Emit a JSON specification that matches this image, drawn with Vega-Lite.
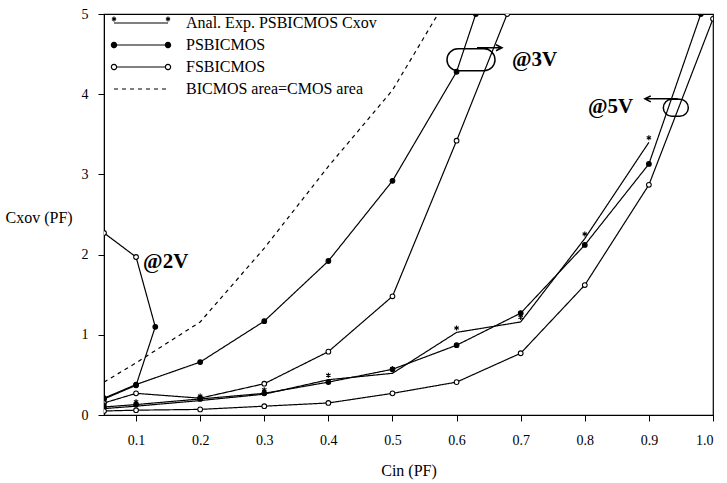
{
  "$schema": "https://vega.github.io/schema/vega-lite/v6.json",
  "width": 609,
  "height": 401,
  "autosize": {"type": "none"},
  "padding": {"left": 104, "top": 14, "right": 14, "bottom": 68},
  "background": "white",
  "config": {
    "view": {"stroke": "black", "strokeWidth": 1.2},
    "font": "Liberation Serif"
  },
  "datasets": {
    "curves": [
      {"curve": "ps2", "kind": "PSBICMOS", "marker": "filled", "cin": 0.05, "cxov": 0.2},
      {"curve": "ps2", "kind": "PSBICMOS", "marker": "filled", "cin": 0.1, "cxov": 0.37},
      {"curve": "ps2", "kind": "PSBICMOS", "marker": "filled", "cin": 0.13, "cxov": 1.1},
      {"curve": "fs2", "kind": "FSBICMOS", "marker": "open", "cin": 0.05, "cxov": 2.27},
      {"curve": "fs2", "kind": "FSBICMOS", "marker": "open", "cin": 0.1, "cxov": 1.97},
      {"curve": "fs2", "kind": "FSBICMOS", "marker": "none", "cin": 0.13, "cxov": 1.1},
      {"curve": "ps3", "kind": "PSBICMOS", "marker": "filled", "cin": 0.05, "cxov": 0.21},
      {"curve": "ps3", "kind": "PSBICMOS", "marker": "filled", "cin": 0.1, "cxov": 0.38},
      {"curve": "ps3", "kind": "PSBICMOS", "marker": "filled", "cin": 0.2, "cxov": 0.66},
      {"curve": "ps3", "kind": "PSBICMOS", "marker": "filled", "cin": 0.3, "cxov": 1.17},
      {"curve": "ps3", "kind": "PSBICMOS", "marker": "filled", "cin": 0.4, "cxov": 1.92},
      {"curve": "ps3", "kind": "PSBICMOS", "marker": "filled", "cin": 0.5, "cxov": 2.92},
      {"curve": "ps3", "kind": "PSBICMOS", "marker": "filled", "cin": 0.6, "cxov": 4.28},
      {"curve": "ps3", "kind": "PSBICMOS", "marker": "filled", "cin": 0.63, "cxov": 5.0},
      {"curve": "fs3", "kind": "FSBICMOS", "marker": "open", "cin": 0.05, "cxov": 0.15},
      {"curve": "fs3", "kind": "FSBICMOS", "marker": "open", "cin": 0.1, "cxov": 0.27},
      {"curve": "fs3", "kind": "FSBICMOS", "marker": "open", "cin": 0.2, "cxov": 0.21},
      {"curve": "fs3", "kind": "FSBICMOS", "marker": "open", "cin": 0.3, "cxov": 0.39},
      {"curve": "fs3", "kind": "FSBICMOS", "marker": "open", "cin": 0.4, "cxov": 0.79},
      {"curve": "fs3", "kind": "FSBICMOS", "marker": "open", "cin": 0.5, "cxov": 1.48},
      {"curve": "fs3", "kind": "FSBICMOS", "marker": "open", "cin": 0.6, "cxov": 3.42},
      {"curve": "fs3", "kind": "FSBICMOS", "marker": "open", "cin": 0.679, "cxov": 5.0},
      {"curve": "an5", "kind": "Anal. Exp. PSBICMOS Cxov", "marker": "star", "cin": 0.05, "cxov": 0.08},
      {"curve": "an5", "kind": "Anal. Exp. PSBICMOS Cxov", "marker": "star", "cin": 0.1, "cxov": 0.11},
      {"curve": "an5", "kind": "Anal. Exp. PSBICMOS Cxov", "marker": "star", "cin": 0.2, "cxov": 0.18},
      {"curve": "an5", "kind": "Anal. Exp. PSBICMOS Cxov", "marker": "star", "cin": 0.3, "cxov": 0.26},
      {"curve": "an5", "kind": "Anal. Exp. PSBICMOS Cxov", "marker": "star", "cin": 0.4, "cxov": 0.44},
      {"curve": "an5", "kind": "Anal. Exp. PSBICMOS Cxov", "marker": "star", "cin": 0.5, "cxov": 0.52},
      {"curve": "an5", "kind": "Anal. Exp. PSBICMOS Cxov", "marker": "star", "cin": 0.6, "cxov": 1.03},
      {"curve": "an5", "kind": "Anal. Exp. PSBICMOS Cxov", "marker": "star", "cin": 0.7, "cxov": 1.16},
      {"curve": "an5", "kind": "Anal. Exp. PSBICMOS Cxov", "marker": "star", "cin": 0.8, "cxov": 2.2},
      {"curve": "an5", "kind": "Anal. Exp. PSBICMOS Cxov", "marker": "star", "cin": 0.9, "cxov": 3.4},
      {"curve": "ps5", "kind": "PSBICMOS", "marker": "filled", "cin": 0.05, "cxov": 0.1},
      {"curve": "ps5", "kind": "PSBICMOS", "marker": "filled", "cin": 0.1, "cxov": 0.13},
      {"curve": "ps5", "kind": "PSBICMOS", "marker": "filled", "cin": 0.2, "cxov": 0.2},
      {"curve": "ps5", "kind": "PSBICMOS", "marker": "filled", "cin": 0.3, "cxov": 0.27},
      {"curve": "ps5", "kind": "PSBICMOS", "marker": "filled", "cin": 0.4, "cxov": 0.41},
      {"curve": "ps5", "kind": "PSBICMOS", "marker": "filled", "cin": 0.5, "cxov": 0.57},
      {"curve": "ps5", "kind": "PSBICMOS", "marker": "filled", "cin": 0.6, "cxov": 0.87},
      {"curve": "ps5", "kind": "PSBICMOS", "marker": "filled", "cin": 0.7, "cxov": 1.27},
      {"curve": "ps5", "kind": "PSBICMOS", "marker": "filled", "cin": 0.8, "cxov": 2.12},
      {"curve": "ps5", "kind": "PSBICMOS", "marker": "filled", "cin": 0.9, "cxov": 3.13},
      {"curve": "ps5", "kind": "PSBICMOS", "marker": "filled", "cin": 0.981, "cxov": 5.0},
      {"curve": "fs5", "kind": "FSBICMOS", "marker": "open", "cin": 0.05, "cxov": 0.05},
      {"curve": "fs5", "kind": "FSBICMOS", "marker": "open", "cin": 0.1, "cxov": 0.06},
      {"curve": "fs5", "kind": "FSBICMOS", "marker": "open", "cin": 0.2, "cxov": 0.07},
      {"curve": "fs5", "kind": "FSBICMOS", "marker": "open", "cin": 0.3, "cxov": 0.11},
      {"curve": "fs5", "kind": "FSBICMOS", "marker": "open", "cin": 0.4, "cxov": 0.15},
      {"curve": "fs5", "kind": "FSBICMOS", "marker": "open", "cin": 0.5, "cxov": 0.27},
      {"curve": "fs5", "kind": "FSBICMOS", "marker": "open", "cin": 0.6, "cxov": 0.41},
      {"curve": "fs5", "kind": "FSBICMOS", "marker": "open", "cin": 0.7, "cxov": 0.77},
      {"curve": "fs5", "kind": "FSBICMOS", "marker": "open", "cin": 0.8, "cxov": 1.62},
      {"curve": "fs5", "kind": "FSBICMOS", "marker": "open", "cin": 0.9, "cxov": 2.87},
      {"curve": "fs5", "kind": "FSBICMOS", "marker": "open", "cin": 1.0, "cxov": 4.94},
      {"curve": "bic", "kind": "BICMOS area=CMOS area", "marker": "none", "cin": 0.05, "cxov": 0.41},
      {"curve": "bic", "kind": "BICMOS area=CMOS area", "marker": "none", "cin": 0.1, "cxov": 0.65},
      {"curve": "bic", "kind": "BICMOS area=CMOS area", "marker": "none", "cin": 0.2, "cxov": 1.16},
      {"curve": "bic", "kind": "BICMOS area=CMOS area", "marker": "none", "cin": 0.3, "cxov": 2.08},
      {"curve": "bic", "kind": "BICMOS area=CMOS area", "marker": "none", "cin": 0.4, "cxov": 3.1},
      {"curve": "bic", "kind": "BICMOS area=CMOS area", "marker": "none", "cin": 0.5, "cxov": 4.05},
      {"curve": "bic", "kind": "BICMOS area=CMOS area", "marker": "none", "cin": 0.571, "cxov": 5.0}
    ],
    "callouts": [
      {"note": "3V", "cin": 0.6225, "cxov": 4.43},
      {"note": "5V", "cin": 0.942, "cxov": 3.83}
    ],
    "labels": [
      {"label": "@2V", "cin": 0.111, "cxov": 1.91},
      {"label": "@3V", "cin": 0.6865, "cxov": 4.43},
      {"label": "@5V", "cin": 0.805, "cxov": 3.84}
    ]
  },
  "layer": [
    {
      "data": {"name": "curves"},
      "mark": {"type": "line", "color": "black", "strokeWidth": 1.2, "clip": true},
      "encoding": {
        "x": {
          "field": "cin", "type": "quantitative",
          "scale": {"domain": [0.05, 1.0], "nice": false, "zero": false},
          "axis": {
            "values": [0.1, 0.2, 0.3, 0.4, 0.5, 0.6, 0.7, 0.8, 0.9, 1.0],
            "format": ".1f", "grid": false,
            "labelFont": "Liberation Serif", "labelFontSize": 14, "labelColor": "black",
            "tickColor": "black", "domainColor": "black", "tickSize": 6, "labelPadding": 12,
            "title": "Cin (PF)", "titleFont": "Liberation Serif", "titleFontSize": 16,
            "titleFontWeight": "normal", "titleColor": "black", "titlePadding": 15
          }
        },
        "y": {
          "field": "cxov", "type": "quantitative",
          "scale": {"domain": [0, 5], "nice": false},
          "axis": {
            "values": [0, 1, 2, 3, 4, 5], "format": "d", "grid": false,
            "labelFont": "Liberation Serif", "labelFontSize": 14, "labelColor": "black",
            "tickColor": "black", "domainColor": "black", "tickSize": 6, "labelPadding": 10,
            "title": "Cxov (PF)", "titleFont": "Liberation Serif", "titleFontSize": 16,
            "titleFontWeight": "normal", "titleColor": "black", "titleAngle": 0,
            "titleAlign": "left", "titleBaseline": "middle", "titleX": -99, "titleY": 203
          }
        },
        "detail": {"field": "curve", "type": "nominal"},
        "strokeDash": {
          "field": "kind", "type": "nominal",
          "scale": {
            "domain": ["Anal. Exp. PSBICMOS Cxov", "PSBICMOS", "FSBICMOS", "BICMOS area=CMOS area"],
            "range": [[1, 0], [1, 0], [1, 0], [4, 4]]
          },
          "legend": {
            "orient": "none", "legendX": 2, "legendY": 1, "title": null,
            "labelFont": "Liberation Serif", "labelFontSize": 16, "labelColor": "black",
            "labelLimit": 0, "symbolSize": 16, "labelOffset": 64, "rowPadding": 6, "padding": 0,
            "symbolStrokeColor": "black", "symbolStrokeWidth": 1.2,
            "encode": {
              "symbols": {
                "update": {
                  "shape": {"signal": "datum.value === 'PSBICMOS' || datum.value === 'FSBICMOS' ? 'M1.3,0H25.7M-1.3,0A1.3,1.3 0 1 0 1.3,0A1.3,1.3 0 1 0 -1.3,0M25.7,0A1.3,1.3 0 1 0 28.3,0A1.3,1.3 0 1 0 25.7,0' : (datum.value === 'Anal. Exp. PSBICMOS Cxov' ? 'M0,0H27M0,-3.2V-0.8M-1.04,-2.6L1.04,-1.4M-1.04,-1.4L1.04,-2.6M27,-3.2V-0.8M25.96,-2.6L28.04,-1.4M25.96,-1.4L28.04,-2.6' : 'M0,0H27')"},
                  "fill": {"signal": "datum.value === 'FSBICMOS' ? 'white' : 'black'"},
                  "stroke": {"value": "black"},
                  "strokeWidth": {"value": 1.2},
                  "strokeDash": {"signal": "datum.value === 'BICMOS area=CMOS area' ? [4, 4] : [1, 0]"}
                }
              }
            }
          }
        }
      }
    },
    {
      "data": {"name": "curves"},
      "transform": [{"filter": "datum.marker !== 'none'"}],
      "mark": {"type": "point", "stroke": "black", "strokeWidth": 1.1, "size": 22, "opacity": 1, "clip": true},
      "encoding": {
        "x": {"field": "cin", "type": "quantitative"},
        "y": {"field": "cxov", "type": "quantitative"},
        "shape": {
          "field": "marker", "type": "nominal",
          "scale": {
            "domain": ["filled", "open", "star"],
            "range": ["circle", "circle", "M0,-2.97V-0.83M-0.93,-2.44L0.93,-1.37M-0.93,-1.37L0.93,-2.44"]
          },
          "legend": null
        },
        "fill": {
          "field": "marker", "type": "nominal",
          "scale": {"domain": ["filled", "open", "star"], "range": ["black", "white", "black"]},
          "legend": null
        }
      }
    },
    {
      "data": {"name": "callouts"},
      "mark": {"type": "point", "stroke": "black", "strokeWidth": 1.5, "size": 4, "fill": "transparent", "opacity": 1},
      "encoding": {
        "x": {"field": "cin", "type": "quantitative"},
        "y": {"field": "cxov", "type": "quantitative"},
        "shape": {
          "field": "note", "type": "nominal",
          "scale": {
            "domain": ["3V", "5V"],
            "range": [
              "M-13,-11H13A11,11 0 0 1 13,11H-13A11,11 0 0 1 -13,-11ZM6,-12H31M25,-15L31,-12L25,-9",
              "M-4,-8.5H4A8.5,8.5 0 0 1 4,8.5H-4A8.5,8.5 0 0 1 -4,-8.5ZM2,-9H-31M-25,-12L-31,-9L-25,-6"
            ]
          },
          "legend": null
        }
      }
    },
    {
      "data": {"name": "labels"},
      "mark": {"type": "text", "font": "Liberation Serif", "fontSize": 21, "fontWeight": "bold", "align": "left", "baseline": "middle", "color": "black"},
      "encoding": {
        "x": {"field": "cin", "type": "quantitative"},
        "y": {"field": "cxov", "type": "quantitative"},
        "text": {"field": "label", "type": "nominal"}
      }
    }
  ],
  "resolve": {"scale": {"shape": "independent", "fill": "independent"}}
}
